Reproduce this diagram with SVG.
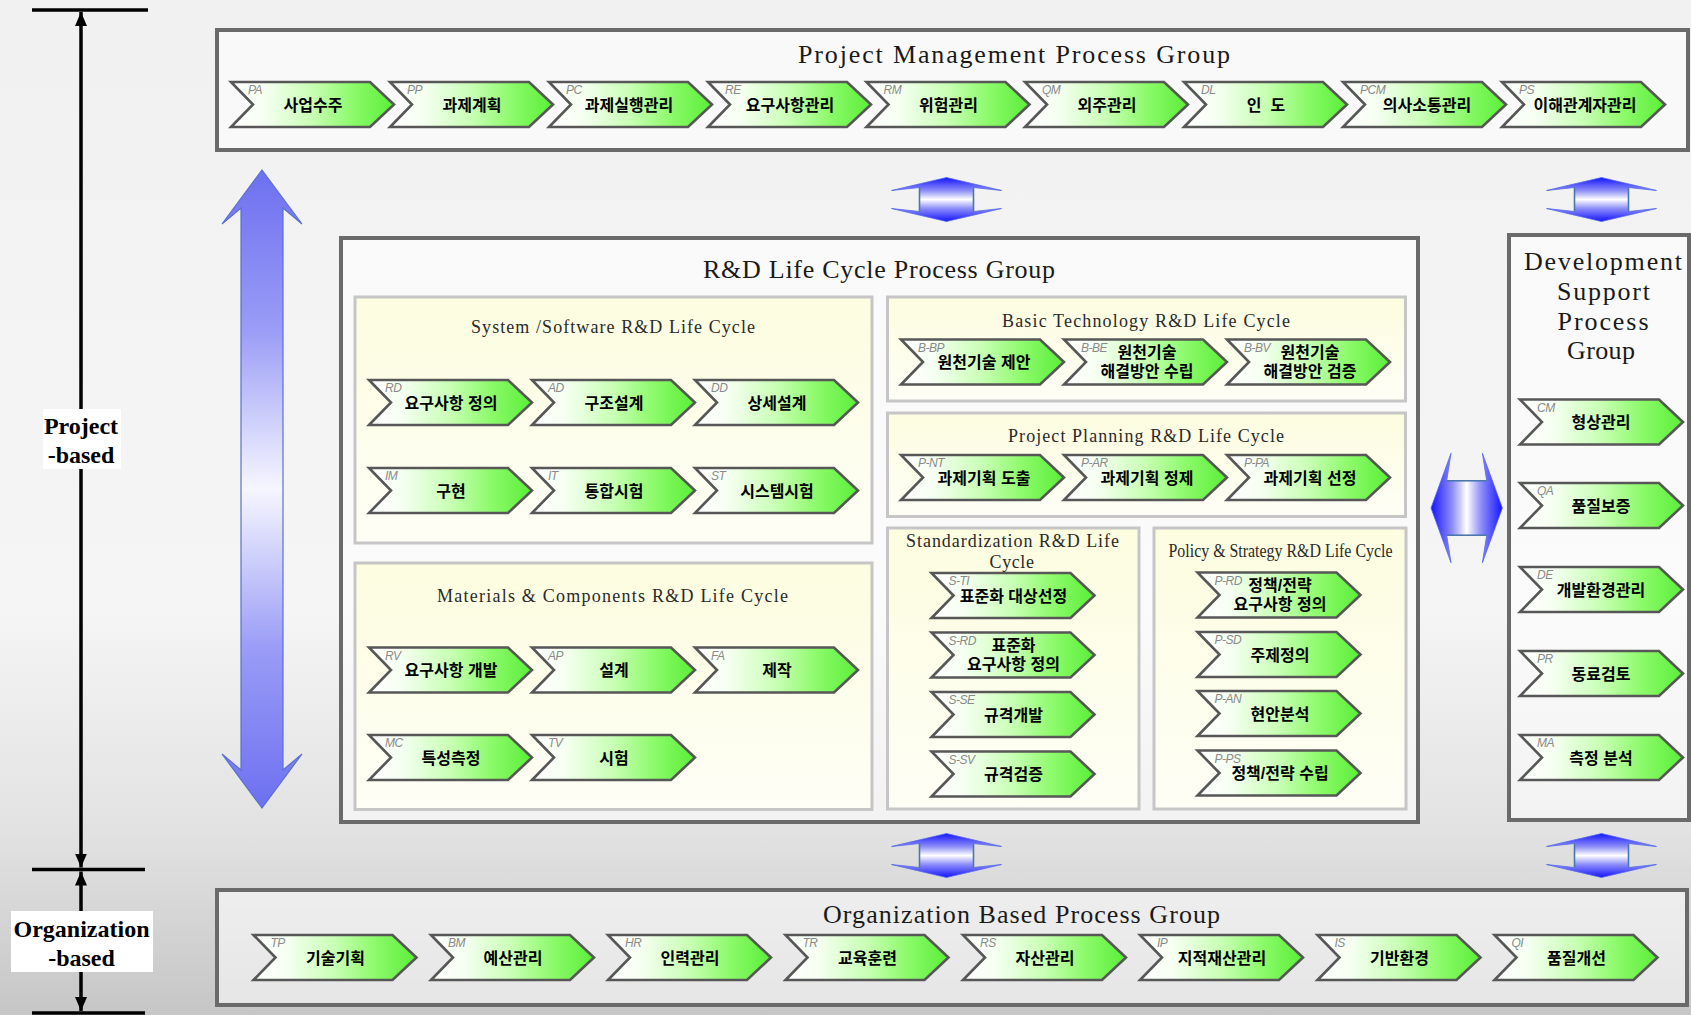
<svg xmlns="http://www.w3.org/2000/svg" xmlns:xlink="http://www.w3.org/1999/xlink" width="1691" height="1015" viewBox="0 0 1691 1015">
<defs>
<style>
.grp{fill:#ffffff;fill-opacity:0.55;stroke:#6a6a6a;stroke-width:4}
.sub{fill:url(#gYel);stroke:#c6c6c6;stroke-width:3}
.gt{font-family:'Liberation Serif',serif;font-size:26px;fill:#1a1a1a}
.st{font-family:'Liberation Serif',serif;font-size:18px;fill:#2a2a2a}
.chev{fill:url(#gGreen);stroke:#575757;stroke-width:2.6;stroke-linejoin:miter}
.code{font-family:'Liberation Sans',sans-serif;font-style:italic;font-size:12px;fill:#8a8a8a;letter-spacing:-0.5px}
.lbl{font-family:'Liberation Sans','Noto Sans CJK KR',sans-serif;font-weight:700;font-size:16px;fill:#000;text-anchor:middle}
.scale{stroke:#000;stroke-width:3.5;fill:none}
.side{font-family:'Liberation Serif',serif;font-weight:700;font-size:24px;fill:#000;text-anchor:middle}
.shaft{stroke:#4a78a8;stroke-width:1.6;fill:none}
</style>
<linearGradient id="bg" x1="0" y1="0" x2="0" y2="1">
<stop offset="0" stop-color="#f1f1f1"/>
<stop offset="0.6" stop-color="#f5f5f5"/>
<stop offset="0.82" stop-color="#e2e2e2"/>
<stop offset="1" stop-color="#c6c6c6"/>
</linearGradient>
<linearGradient id="gYel" x1="0" y1="0" x2="0" y2="1">
<stop offset="0" stop-color="#fdfde0"/>
<stop offset="1" stop-color="#fefef6"/>
</linearGradient>
<linearGradient id="gGreen" x1="0" y1="0" x2="1" y2="0">
<stop offset="0" stop-color="#ffffff"/>
<stop offset="0.2" stop-color="#f6fff2"/>
<stop offset="0.5" stop-color="#c8ffb4"/>
<stop offset="0.75" stop-color="#8cfa6a"/>
<stop offset="1" stop-color="#5aee38"/>
</linearGradient>
<linearGradient id="gBig" gradientUnits="userSpaceOnUse" x1="0" y1="170" x2="0" y2="808">
<stop offset="0" stop-color="#6d70f0"/>
<stop offset="0.25" stop-color="#9a9cf6"/>
<stop offset="0.5" stop-color="#f6f6ff"/>
<stop offset="0.75" stop-color="#9a9cf6"/>
<stop offset="1" stop-color="#6d70f0"/>
</linearGradient>
<linearGradient id="gV" x1="0" y1="0" x2="0" y2="1">
<stop offset="0" stop-color="#1414ff"/>
<stop offset="0.3" stop-color="#8f8ff8"/>
<stop offset="0.5" stop-color="#ffffff"/>
<stop offset="0.7" stop-color="#8f8ff8"/>
<stop offset="1" stop-color="#1414ff"/>
</linearGradient>
<linearGradient id="gH" x1="0" y1="0" x2="1" y2="0">
<stop offset="0" stop-color="#1414ff"/>
<stop offset="0.3" stop-color="#8f8ff8"/>
<stop offset="0.5" stop-color="#ffffff"/>
<stop offset="0.7" stop-color="#8f8ff8"/>
<stop offset="1" stop-color="#1414ff"/>
</linearGradient>
<path id="chev" d="M0,0 H139 L163,22.5 L139,45 H0 L22,22.5 Z"/>
<path id="dblV" d="M0,-22 L55,-9 L27,-12 L27,12 L55,9 L0,22 L-55,9 L-27,12 L-27,-12 L-55,-9 Z"/>
<marker id="arr" viewBox="0 0 14 12" refX="14" refY="6" markerWidth="14" markerHeight="12" markerUnits="userSpaceOnUse" orient="auto-start-reverse">
<path d="M0,0 L14,6 L0,12 Z" fill="#000"/>
</marker>
</defs>

<rect x="0" y="0" width="1691" height="1015" fill="url(#bg)"/>

<!-- left scale -->
<g id="scale">
<line class="scale" x1="32" y1="10" x2="148" y2="10"/>
<line class="scale" x1="32" y1="869.5" x2="145" y2="869.5"/>
<line class="scale" x1="32" y1="1013" x2="145" y2="1013"/>
<line class="scale" x1="81" y1="12" x2="81" y2="867.5" marker-start="url(#arr)" marker-end="url(#arr)"/>
<line class="scale" x1="81" y1="871.5" x2="81" y2="1011" marker-start="url(#arr)" marker-end="url(#arr)"/>
</g>
<g id="label-project">
<rect x="43" y="409" width="78" height="60" fill="#fff"/>
<text class="side" x="81" y="434">Project</text>
<text class="side" x="81" y="463">-based</text>
</g>
<g id="label-organization">
<rect x="11" y="911" width="142" height="61" fill="#fff"/>
<text class="side" x="81.5" y="937">Organization</text>
<text class="side" x="81.5" y="966">-based</text>
</g>

<!-- group boxes -->
<g id="pm-group">
<rect class="grp" x="217" y="30" width="1471" height="120"/>
<text class="gt" x="798" y="63" textLength="432" lengthAdjust="spacing">Project Management Process Group</text>
</g>
<g id="rd-group">
<rect class="grp" x="341" y="238" width="1077" height="584"/>
<text class="gt" x="703" y="278" textLength="352" lengthAdjust="spacing">R&amp;D Life Cycle Process Group</text>
</g>
<g id="dev-group">
<rect class="grp" x="1509" y="235" width="180" height="585"/>
<text class="gt" x="1524" y="270" textLength="158" lengthAdjust="spacing">Development</text>
<text class="gt" x="1557" y="300" textLength="93" lengthAdjust="spacing">Support</text>
<text class="gt" x="1557.5" y="329.5" textLength="91" lengthAdjust="spacing">Process</text>
<text class="gt" x="1567" y="359" textLength="68" lengthAdjust="spacing">Group</text>
</g>
<g id="org-group">
<rect class="grp" x="217" y="890" width="1470" height="115"/>
<text class="gt" x="823" y="923" textLength="397" lengthAdjust="spacing">Organization Based Process Group</text>
</g>

<!-- sub boxes -->
<g id="sys-sw">
<rect class="sub" x="355" y="297" width="517" height="246"/>
<text class="st" x="471" y="333" textLength="284" lengthAdjust="spacing">System /Software R&amp;D Life Cycle</text>
</g>
<g id="materials">
<rect class="sub" x="355" y="563" width="517" height="246.5"/>
<text class="st" x="437" y="601.5" textLength="351" lengthAdjust="spacing">Materials &amp; Components R&amp;D Life Cycle</text>
</g>
<g id="basic-tech">
<rect class="sub" x="887.5" y="297" width="518" height="104"/>
<text class="st" x="1002" y="326.5" textLength="288" lengthAdjust="spacing">Basic Technology R&amp;D Life Cycle</text>
</g>
<g id="proj-planning">
<rect class="sub" x="887.5" y="413" width="518" height="103.5"/>
<text class="st" x="1008" y="441.5" textLength="276" lengthAdjust="spacing">Project Planning R&amp;D Life Cycle</text>
</g>
<g id="standardization">
<rect class="sub" x="887.5" y="528" width="251.5" height="281"/>
<text class="st" x="906" y="546.5" textLength="213" lengthAdjust="spacing">Standardization R&amp;D Life</text>
<text class="st" x="989.5" y="568" textLength="44.5" lengthAdjust="spacing">Cycle</text>
</g>
<g id="policy">
<rect class="sub" x="1154" y="528" width="252" height="281"/>
<text class="st" x="1168.5" y="557" font-size="17" textLength="224" lengthAdjust="spacingAndGlyphs">Policy &amp; Strategy R&amp;D Life Cycle</text>
</g>

<!-- connectors -->
<g id="connectors">
<g id="big-arrow">
<path d="M262,170 L302,224 L283,208 L283,770 L302,754 L262,808 L222,754 L241,770 L241,208 L222,224 Z" fill="url(#gBig)" stroke="#5a70d0" stroke-width="1.2"/>
</g>
<g id="arrow-pm-rd" transform="translate(946.5,199.5)">
<use xlink:href="#dblV" fill="url(#gV)" stroke="#5566ee" stroke-width="0.8"/>
<line class="shaft" x1="-27" y1="-12" x2="-27" y2="12"/><line class="shaft" x1="27" y1="-12" x2="27" y2="12"/>
</g>
<g id="arrow-pm-dev" transform="translate(1601.5,199.5)">
<use xlink:href="#dblV" fill="url(#gV)" stroke="#5566ee" stroke-width="0.8"/>
<line class="shaft" x1="-27" y1="-12" x2="-27" y2="12"/><line class="shaft" x1="27" y1="-12" x2="27" y2="12"/>
</g>
<g id="arrow-rd-org" transform="translate(946.5,855.5)">
<use xlink:href="#dblV" fill="url(#gV)" stroke="#5566ee" stroke-width="0.8"/>
<line class="shaft" x1="-27" y1="-12" x2="-27" y2="12"/><line class="shaft" x1="27" y1="-12" x2="27" y2="12"/>
</g>
<g id="arrow-dev-org" transform="translate(1601.5,855.5)">
<use xlink:href="#dblV" fill="url(#gV)" stroke="#5566ee" stroke-width="0.8"/>
<line class="shaft" x1="-27" y1="-12" x2="-27" y2="12"/><line class="shaft" x1="27" y1="-12" x2="27" y2="12"/>
</g>
<g id="arrow-rd-dev" transform="translate(1466.7,508)">
<path d="M-35.7,0 L-15.7,-54.7 L-20,-27.3 L20,-27.3 L15.7,-54.7 L35.7,0 L15.7,54.7 L20,27.3 L-20,27.3 L-15.7,54.7 Z" fill="url(#gH)" stroke="#5566ee" stroke-width="0.8"/>
<line class="shaft" x1="-20" y1="-27.3" x2="20" y2="-27.3"/><line class="shaft" x1="-20" y1="27.3" x2="20" y2="27.3"/>
</g>
</g>

<!-- Project Management row -->
<g id="n-PA" transform="translate(231,82)"><use xlink:href="#chev" class="chev"/><text class="code" x="17" y="12">PA</text><text class="lbl" x="82" y="28.5">사업수주</text></g>
<g id="n-PP" transform="translate(390,82)"><use xlink:href="#chev" class="chev"/><text class="code" x="17" y="12">PP</text><text class="lbl" x="82" y="28.5">과제계획</text></g>
<g id="n-PC" transform="translate(549,82)"><use xlink:href="#chev" class="chev"/><text class="code" x="17" y="12">PC</text><text class="lbl" x="80" y="28.5">과제실행관리</text></g>
<g id="n-RE" transform="translate(708,82)"><use xlink:href="#chev" class="chev"/><text class="code" x="17" y="12">RE</text><text class="lbl" x="82" y="28.5">요구사항관리</text></g>
<g id="n-RM" transform="translate(866.5,82)"><use xlink:href="#chev" class="chev"/><text class="code" x="17" y="12">RM</text><text class="lbl" x="82" y="28.5">위험관리</text></g>
<g id="n-QM" transform="translate(1025,82)"><use xlink:href="#chev" class="chev"/><text class="code" x="17" y="12">QM</text><text class="lbl" x="82" y="28.5">외주관리</text></g>
<g id="n-DL" transform="translate(1184,82)"><use xlink:href="#chev" class="chev"/><text class="code" x="17" y="12">DL</text><text class="lbl" x="82" y="28.5" xml:space="preserve">인  도</text></g>
<g id="n-PCM" transform="translate(1343,82)"><use xlink:href="#chev" class="chev"/><text class="code" x="17" y="12">PCM</text><text class="lbl" x="84" y="28.5">의사소통관리</text></g>
<g id="n-PS" transform="translate(1502,82)"><use xlink:href="#chev" class="chev"/><text class="code" x="17" y="12">PS</text><text class="lbl" x="83" y="28.5">이해관계자관리</text></g>

<!-- System/Software -->
<g id="n-RD" transform="translate(369,380)"><use xlink:href="#chev" class="chev"/><text class="code" x="16" y="12">RD</text><text class="lbl" x="82" y="28.5">요구사항 정의</text></g>
<g id="n-AD" transform="translate(532,380)"><use xlink:href="#chev" class="chev"/><text class="code" x="16" y="12">AD</text><text class="lbl" x="82" y="28.5">구조설계</text></g>
<g id="n-DD" transform="translate(695,380)"><use xlink:href="#chev" class="chev"/><text class="code" x="16" y="12">DD</text><text class="lbl" x="82" y="28.5">상세설계</text></g>
<g id="n-IM" transform="translate(369,468)"><use xlink:href="#chev" class="chev"/><text class="code" x="16" y="12">IM</text><text class="lbl" x="82" y="28.5">구현</text></g>
<g id="n-IT" transform="translate(532,468)"><use xlink:href="#chev" class="chev"/><text class="code" x="16" y="12">IT</text><text class="lbl" x="82" y="28.5">통합시험</text></g>
<g id="n-ST" transform="translate(695,468)"><use xlink:href="#chev" class="chev"/><text class="code" x="16" y="12">ST</text><text class="lbl" x="82" y="28.5">시스템시험</text></g>

<!-- Materials -->
<g id="n-RV" transform="translate(369,647.5)"><use xlink:href="#chev" class="chev"/><text class="code" x="16" y="12">RV</text><text class="lbl" x="82" y="28.5">요구사항 개발</text></g>
<g id="n-AP" transform="translate(532,647.5)"><use xlink:href="#chev" class="chev"/><text class="code" x="16" y="12">AP</text><text class="lbl" x="82" y="28.5">설계</text></g>
<g id="n-FA" transform="translate(695,647.5)"><use xlink:href="#chev" class="chev"/><text class="code" x="16" y="12">FA</text><text class="lbl" x="82" y="28.5">제작</text></g>
<g id="n-MC" transform="translate(369,735)"><use xlink:href="#chev" class="chev"/><text class="code" x="16" y="12">MC</text><text class="lbl" x="82" y="28.5">특성측정</text></g>
<g id="n-TV" transform="translate(532,735)"><use xlink:href="#chev" class="chev"/><text class="code" x="16" y="12">TV</text><text class="lbl" x="82" y="28.5">시험</text></g>

<!-- Basic Technology -->
<g id="n-B-BP" transform="translate(901,339.5)"><use xlink:href="#chev" class="chev"/><text class="code" x="17" y="12">B-BP</text><text class="lbl" x="83" y="28.5">원천기술 제안</text></g>
<g id="n-B-BE" transform="translate(1064,339.5)"><use xlink:href="#chev" class="chev"/><text class="code" x="17" y="12">B-BE</text><text class="lbl"><tspan x="83" y="18.5">원천기술</tspan><tspan x="83" y="37.5">해결방안 수립</tspan></text></g>
<g id="n-B-BV" transform="translate(1227,339.5)"><use xlink:href="#chev" class="chev"/><text class="code" x="17" y="12">B-BV</text><text class="lbl"><tspan x="83" y="18.5">원천기술</tspan><tspan x="83" y="37.5">해결방안 검증</tspan></text></g>

<!-- Project Planning -->
<g id="n-P-NT" transform="translate(901,455)"><use xlink:href="#chev" class="chev"/><text class="code" x="17" y="12">P-NT</text><text class="lbl" x="83" y="28.5">과제기획 도출</text></g>
<g id="n-P-AR" transform="translate(1064,455)"><use xlink:href="#chev" class="chev"/><text class="code" x="17" y="12">P-AR</text><text class="lbl" x="83" y="28.5">과제기획 정제</text></g>
<g id="n-P-PA" transform="translate(1227,455)"><use xlink:href="#chev" class="chev"/><text class="code" x="17" y="12">P-PA</text><text class="lbl" x="83" y="28.5">과제기획 선정</text></g>

<!-- Standardization -->
<g id="n-S-TI" transform="translate(931.5,573)"><use xlink:href="#chev" class="chev"/><text class="code" x="17" y="12">S-TI</text><text class="lbl" x="82" y="28.5">표준화 대상선정</text></g>
<g id="n-S-RD" transform="translate(931.5,632.5)"><use xlink:href="#chev" class="chev"/><text class="code" x="17" y="12">S-RD</text><text class="lbl"><tspan x="82" y="18.5">표준화</tspan><tspan x="82" y="37.5">요구사항 정의</tspan></text></g>
<g id="n-S-SE" transform="translate(931.5,692)"><use xlink:href="#chev" class="chev"/><text class="code" x="17" y="12">S-SE</text><text class="lbl" x="82" y="28.5">규격개발</text></g>
<g id="n-S-SV" transform="translate(931.5,751.5)"><use xlink:href="#chev" class="chev"/><text class="code" x="17" y="12">S-SV</text><text class="lbl" x="82" y="28.5">규격검증</text></g>

<!-- Policy & Strategy -->
<g id="n-P-RD" transform="translate(1197.5,572.5)"><use xlink:href="#chev" class="chev"/><text class="code" x="17" y="12">P-RD</text><text class="lbl"><tspan x="82.5" y="18.5">정책/전략</tspan><tspan x="82.5" y="37.5">요구사항 정의</tspan></text></g>
<g id="n-P-SD" transform="translate(1197.5,632)"><use xlink:href="#chev" class="chev"/><text class="code" x="17" y="12">P-SD</text><text class="lbl" x="82.5" y="28.5">주제정의</text></g>
<g id="n-P-AN" transform="translate(1197.5,691)"><use xlink:href="#chev" class="chev"/><text class="code" x="17" y="12">P-AN</text><text class="lbl" x="82.5" y="28.5">현안분석</text></g>
<g id="n-P-PS" transform="translate(1197.5,750.5)"><use xlink:href="#chev" class="chev"/><text class="code" x="17" y="12">P-PS</text><text class="lbl" x="82.5" y="28.5">정책/전략 수립</text></g>

<!-- Development Support -->
<g id="n-CM" transform="translate(1520,399.5)"><use xlink:href="#chev" class="chev"/><text class="code" x="17" y="12">CM</text><text class="lbl" x="81" y="28.5">형상관리</text></g>
<g id="n-QA" transform="translate(1520,483)"><use xlink:href="#chev" class="chev"/><text class="code" x="17" y="12">QA</text><text class="lbl" x="81" y="28.5">품질보증</text></g>
<g id="n-DE" transform="translate(1520,567)"><use xlink:href="#chev" class="chev"/><text class="code" x="17" y="12">DE</text><text class="lbl" x="81" y="28.5">개발환경관리</text></g>
<g id="n-PR" transform="translate(1520,651)"><use xlink:href="#chev" class="chev"/><text class="code" x="17" y="12">PR</text><text class="lbl" x="81" y="28.5">동료검토</text></g>
<g id="n-MA" transform="translate(1520,735)"><use xlink:href="#chev" class="chev"/><text class="code" x="17" y="12">MA</text><text class="lbl" x="81" y="28.5">측정 분석</text></g>

<!-- Organization row -->
<g id="n-TP" transform="translate(253.5,935)"><use xlink:href="#chev" class="chev"/><text class="code" x="17" y="12">TP</text><text class="lbl" x="82" y="28.5">기술기획</text></g>
<g id="n-BM" transform="translate(431,935)"><use xlink:href="#chev" class="chev"/><text class="code" x="17" y="12">BM</text><text class="lbl" x="82" y="28.5">예산관리</text></g>
<g id="n-HR" transform="translate(608,935)"><use xlink:href="#chev" class="chev"/><text class="code" x="17" y="12">HR</text><text class="lbl" x="82" y="28.5">인력관리</text></g>
<g id="n-TR" transform="translate(785.5,935)"><use xlink:href="#chev" class="chev"/><text class="code" x="17" y="12">TR</text><text class="lbl" x="82" y="28.5">교육훈련</text></g>
<g id="n-RS" transform="translate(963,935)"><use xlink:href="#chev" class="chev"/><text class="code" x="17" y="12">RS</text><text class="lbl" x="82" y="28.5">자산관리</text></g>
<g id="n-IP" transform="translate(1140,935)"><use xlink:href="#chev" class="chev"/><text class="code" x="17" y="12">IP</text><text class="lbl" x="82" y="28.5">지적재산관리</text></g>
<g id="n-IS" transform="translate(1317.5,935)"><use xlink:href="#chev" class="chev"/><text class="code" x="17" y="12">IS</text><text class="lbl" x="82" y="28.5">기반환경</text></g>
<g id="n-QI" transform="translate(1494.5,935)"><use xlink:href="#chev" class="chev"/><text class="code" x="17" y="12">QI</text><text class="lbl" x="82" y="28.5">품질개선</text></g>
</svg>
